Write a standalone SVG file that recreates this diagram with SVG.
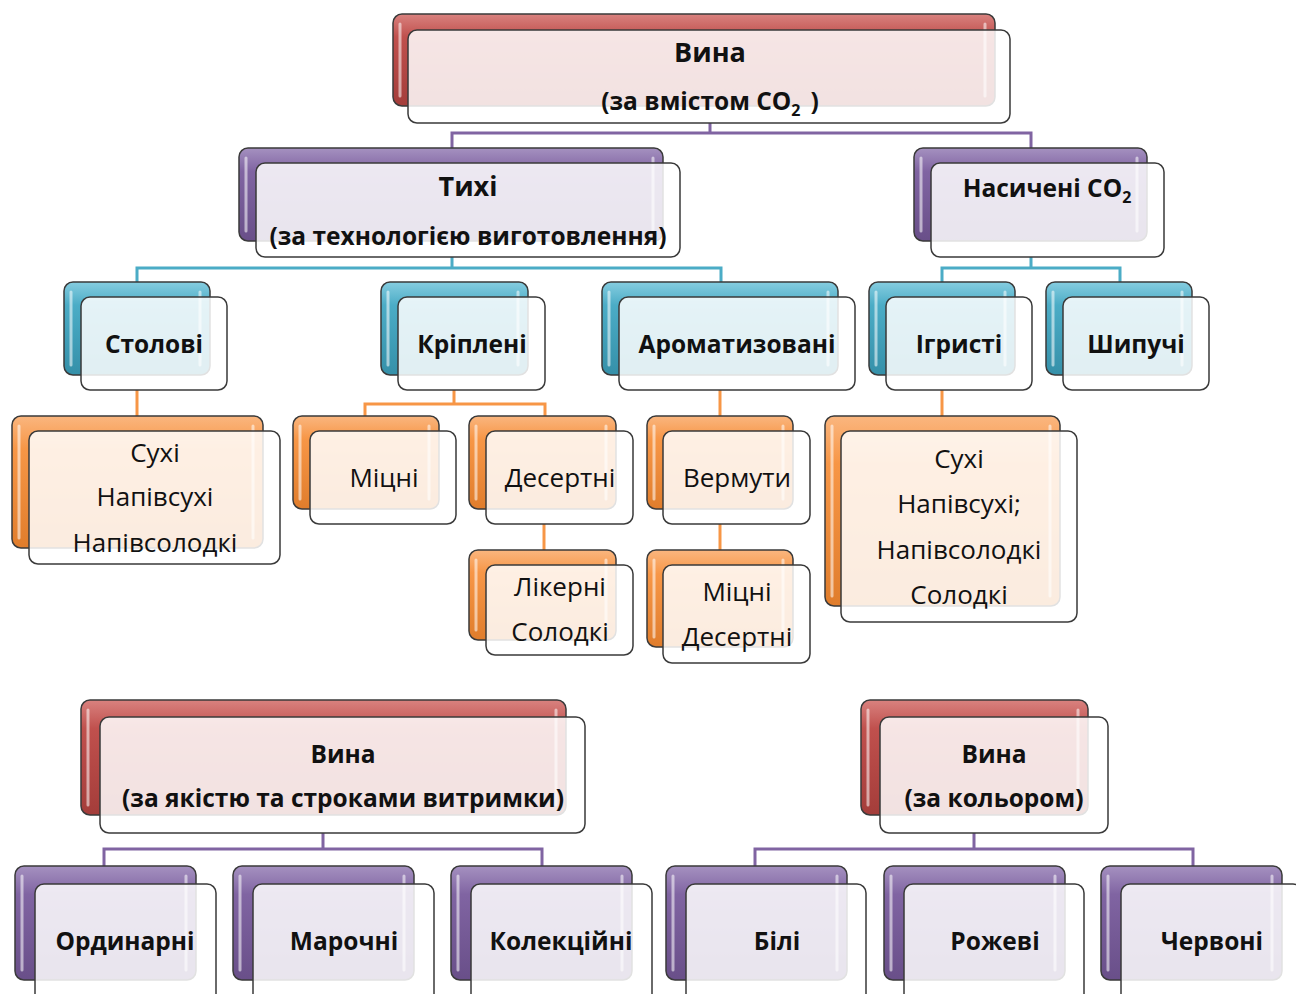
<svg xmlns="http://www.w3.org/2000/svg" width="1296" height="994" viewBox="0 0 1296 994">
<defs>
<linearGradient id="gRed" x1="0" y1="0" x2="0" y2="1"><stop offset="0" stop-color="#d9827f"/><stop offset="0.25" stop-color="#c0504d"/><stop offset="1" stop-color="#a43d3a"/></linearGradient>
<linearGradient id="gPur" x1="0" y1="0" x2="0" y2="1"><stop offset="0" stop-color="#a591c0"/><stop offset="0.25" stop-color="#8064a2"/><stop offset="1" stop-color="#694f89"/></linearGradient>
<linearGradient id="gTeal" x1="0" y1="0" x2="0" y2="1"><stop offset="0" stop-color="#86cde0"/><stop offset="0.25" stop-color="#4bacc6"/><stop offset="1" stop-color="#3590a9"/></linearGradient>
<linearGradient id="gOr" x1="0" y1="0" x2="0" y2="1"><stop offset="0" stop-color="#fab67f"/><stop offset="0.25" stop-color="#f79646"/><stop offset="1" stop-color="#e07d2c"/></linearGradient>
<style>
.back{stroke:#3a3a3a;stroke-width:1.5}
.red{fill:url(#gRed)}
.pur{fill:url(#gPur)}
.teal{fill:url(#gTeal)}
.or{fill:url(#gOr)}
.front{fill:#ffffff;fill-opacity:0.85;stroke:#3a3a3a;stroke-width:1.5}
.hl{stroke:#ffffff;stroke-opacity:0.55;stroke-width:3;stroke-linecap:round;fill:none}
.t{font-family:"Open Sans","Noto Sans",sans-serif;font-size:26px;fill:#111;text-anchor:middle}
.b{font-weight:700;font-size:24.5px}
.h{font-weight:700;font-size:27px}
.sub{font-size:16px}
.cp{stroke:#8064a2;stroke-width:3;fill:none}
.ct{stroke:#4bacc6;stroke-width:3;fill:none}
.co{stroke:#f79646;stroke-width:3;fill:none}
</style>
</defs>

<g id="connectors">
<path class="cp" d="M710 123V133M452 148V133H1031V148"/>
<path class="ct" d="M452 257V268M137 282V268H721V282"/>
<path class="ct" d="M1031 257V268M942 282V268H1120V282"/>
<path class="co" d="M137 390V416"/>
<path class="co" d="M454 390V404M365 416V404H545V416"/>
<path class="co" d="M720 390V416"/>
<path class="co" d="M942 390V416"/>
<path class="co" d="M544 524V550"/>
<path class="co" d="M720 524V550"/>
<path class="cp" d="M323 833V849M104 866V849H542V866"/>
<path class="cp" d="M974 833V849M755 866V849H1193V866"/>
</g>

<g id="n-vyna-co2">
<rect class="back red" x="393" y="14" width="602" height="92" rx="9"/>
<path class="hl" d="M400 24V96M985 24V96"/>
<rect class="front" x="408" y="30" width="602" height="93" rx="9"/>
<text class="t h" x="710" y="62">Вина</text>
<text class="t b" x="710" y="110">(за вмістом CO<tspan class="sub" dy="6">2</tspan><tspan dx="10" dy="-6">)</tspan></text>
</g>

<g id="n-tykhi">
<rect class="back pur" x="239" y="148" width="424" height="93" rx="9"/>
<path class="hl" d="M246 158V231M653 158V231"/>
<rect class="front" x="256" y="163" width="424" height="94" rx="9"/>
<text class="t h" x="468" y="196">Тихі</text>
<text class="t b" x="468" y="245">(за технологією виготовлення)</text>
</g>

<g id="n-nasycheni">
<rect class="back pur" x="914" y="148" width="233" height="93" rx="9"/>
<path class="hl" d="M921 158V231M1137 158V231"/>
<rect class="front" x="931" y="163" width="233" height="94" rx="9"/>
<text class="t b" x="1047" y="197">Насичені CO<tspan class="sub" dy="6">2</tspan></text>
</g>

<g id="n-stolovi">
<rect class="back teal" x="64" y="282" width="146" height="93" rx="9"/>
<path class="hl" d="M71 292V365M200 292V365"/>
<rect class="front" x="81" y="297" width="146" height="93" rx="9"/>
<text class="t b" x="154" y="353">Столові</text>
</g>

<g id="n-kripleni">
<rect class="back teal" x="381" y="282" width="147" height="93" rx="9"/>
<path class="hl" d="M388 292V365M518 292V365"/>
<rect class="front" x="398" y="297" width="147" height="93" rx="9"/>
<text class="t b" x="472" y="353">Кріплені</text>
</g>

<g id="n-aromatyzovani">
<rect class="back teal" x="602" y="282" width="236" height="93" rx="9"/>
<path class="hl" d="M609 292V365M828 292V365"/>
<rect class="front" x="619" y="297" width="236" height="93" rx="9"/>
<text class="t b" x="737" y="353">Ароматизовані</text>
</g>

<g id="n-ihrysti">
<rect class="back teal" x="869" y="282" width="146" height="93" rx="9"/>
<path class="hl" d="M876 292V365M1005 292V365"/>
<rect class="front" x="886" y="297" width="146" height="93" rx="9"/>
<text class="t b" x="959" y="353">Ігристі</text>
</g>

<g id="n-shypuchi">
<rect class="back teal" x="1046" y="282" width="146" height="93" rx="9"/>
<path class="hl" d="M1053 292V365M1182 292V365"/>
<rect class="front" x="1063" y="297" width="146" height="93" rx="9"/>
<text class="t b" x="1136" y="353">Шипучі</text>
</g>

<g id="n-stolovi-sub">
<rect class="back or" x="12" y="416" width="251" height="132" rx="9"/>
<path class="hl" d="M19 426V538M253 426V538"/>
<rect class="front" x="29" y="431" width="251" height="133" rx="9"/>
<text class="t" x="155" y="462">Сухі</text>
<text class="t" x="155" y="506">Напівсухі</text>
<text class="t" x="155" y="552">Напівсолодкі</text>
</g>

<g id="n-mitsni">
<rect class="back or" x="293" y="416" width="146" height="93" rx="9"/>
<path class="hl" d="M300 426V499M429 426V499"/>
<rect class="front" x="310" y="431" width="146" height="93" rx="9"/>
<text class="t" x="384" y="487">Міцні</text>
</g>

<g id="n-deserti">
<rect class="back or" x="469" y="416" width="147" height="93" rx="9"/>
<path class="hl" d="M476 426V499M606 426V499"/>
<rect class="front" x="486" y="431" width="147" height="93" rx="9"/>
<text class="t" x="560" y="487">Десертні</text>
</g>

<g id="n-vermuty">
<rect class="back or" x="647" y="416" width="146" height="93" rx="9"/>
<path class="hl" d="M654 426V499M783 426V499"/>
<rect class="front" x="663" y="431" width="147" height="93" rx="9"/>
<text class="t" x="737" y="487">Вермути</text>
</g>

<g id="n-ihrysti-sub">
<rect class="back or" x="825" y="416" width="235" height="190" rx="9"/>
<path class="hl" d="M832 426V596M1050 426V596"/>
<rect class="front" x="841" y="431" width="236" height="191" rx="9"/>
<text class="t" x="959" y="468">Сухі</text>
<text class="t" x="959" y="513">Напівсухі;</text>
<text class="t" x="959" y="559">Напівсолодкі</text>
<text class="t" x="959" y="604">Солодкі</text>
</g>

<g id="n-likerni">
<rect class="back or" x="469" y="550" width="147" height="90" rx="9"/>
<path class="hl" d="M476 560V630M606 560V630"/>
<rect class="front" x="486" y="565" width="147" height="90" rx="9"/>
<text class="t" x="560" y="596">Лікерні</text>
<text class="t" x="560" y="641">Солодкі</text>
</g>

<g id="n-vermuty-sub">
<rect class="back or" x="647" y="550" width="146" height="97" rx="9"/>
<path class="hl" d="M654 560V637M783 560V637"/>
<rect class="front" x="663" y="565" width="147" height="98" rx="9"/>
<text class="t" x="737" y="601">Міцні</text>
<text class="t" x="737" y="646">Десертні</text>
</g>

<g id="n-vyna-quality">
<rect class="back red" x="81" y="700" width="485" height="115" rx="9"/>
<path class="hl" d="M88 710V805M556 710V805"/>
<rect class="front" x="100" y="717" width="485" height="116" rx="9"/>
<text class="t b" x="343" y="763">Вина</text>
<text class="t b" x="343" y="807">(за якістю та строками витримки)</text>
</g>

<g id="n-vyna-colour">
<rect class="back red" x="861" y="700" width="227" height="115" rx="9"/>
<path class="hl" d="M868 710V805M1078 710V805"/>
<rect class="front" x="880" y="717" width="228" height="116" rx="9"/>
<text class="t b" x="994" y="763">Вина</text>
<text class="t b" x="994" y="807">(за кольором)</text>
</g>

<g id="n-ordynarni">
<rect class="back pur" x="15" y="866" width="181" height="114" rx="9"/>
<path class="hl" d="M22 876V970M186 876V970"/>
<rect class="front" x="35" y="884" width="181" height="120" rx="9"/>
<text class="t b" x="125" y="950">Ординарні</text>
</g>

<g id="n-marochni">
<rect class="back pur" x="233" y="866" width="181" height="114" rx="9"/>
<path class="hl" d="M240 876V970M404 876V970"/>
<rect class="front" x="253" y="884" width="181" height="120" rx="9"/>
<text class="t b" x="344" y="950">Марочні</text>
</g>

<g id="n-kolektsiini">
<rect class="back pur" x="451" y="866" width="181" height="114" rx="9"/>
<path class="hl" d="M458 876V970M622 876V970"/>
<rect class="front" x="471" y="884" width="181" height="120" rx="9"/>
<text class="t b" x="561" y="950">Колекційні</text>
</g>

<g id="n-bili">
<rect class="back pur" x="666" y="866" width="181" height="114" rx="9"/>
<path class="hl" d="M673 876V970M837 876V970"/>
<rect class="front" x="686" y="884" width="180" height="120" rx="9"/>
<text class="t b" x="777" y="950">Білі</text>
</g>

<g id="n-rozhevi">
<rect class="back pur" x="884" y="866" width="181" height="114" rx="9"/>
<path class="hl" d="M891 876V970M1055 876V970"/>
<rect class="front" x="904" y="884" width="180" height="120" rx="9"/>
<text class="t b" x="995" y="950">Рожеві</text>
</g>

<g id="n-chervoni">
<rect class="back pur" x="1101" y="866" width="181" height="114" rx="9"/>
<path class="hl" d="M1108 876V970M1272 876V970"/>
<rect class="front" x="1121" y="884" width="181" height="120" rx="9"/>
<text class="t b" x="1212" y="950">Червоні</text>
</g>
</svg>
